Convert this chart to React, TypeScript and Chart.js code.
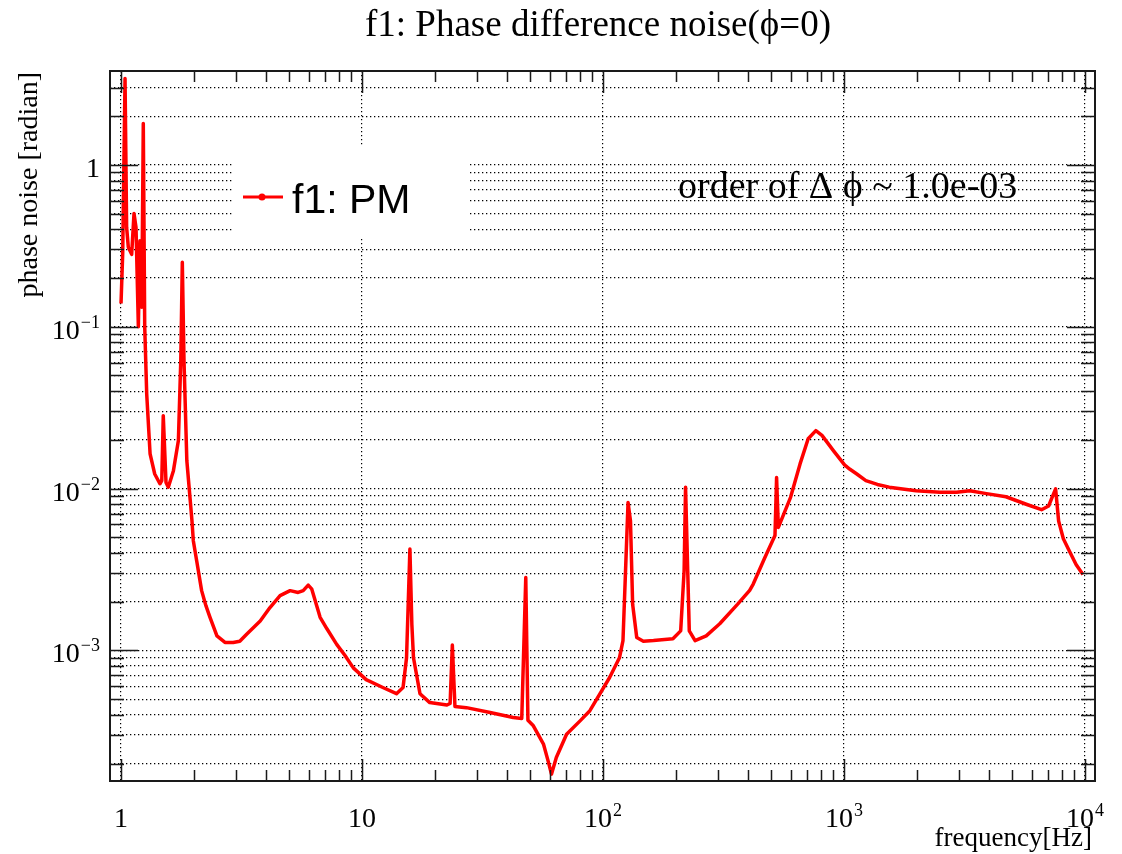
import React, { useEffect, useRef } from "react";
import { Chart, registerables } from "chart.js";

Chart.register(...registerables);

// ---------------- data ----------------
const TITLE = "f1: Phase difference noise(\u03d5=0)";
const X_TITLE = "frequency[Hz]";
const Y_TITLE = "phase noise [radian]";
const LEGEND_LABEL = "f1: PM";
const NOTE = "order of \u0394 \u03d5 ~ 1.0e-03";

const freq = [
  1.0, 1.016, 1.039, 1.055, 1.072, 1.107, 1.132, 1.154, 1.18, 1.198, 1.219, 1.237,
  1.254, 1.278, 1.32, 1.38, 1.45, 1.476, 1.497, 1.537, 1.571, 1.65, 1.73, 1.77,
  1.796, 1.825, 1.875, 1.97, 1.995, 2.06, 2.16, 2.25, 2.34, 2.5, 2.7, 2.92, 3.11, 3.32, 3.78,
  4.15, 4.57, 5.03, 5.43, 5.7, 5.98, 6.18, 6.7, 7.15, 7.85, 8.5, 9.2, 10.4, 12.2, 13.9, 14.8,
  15.3, 15.45, 15.8, 16.1, 16.35, 17.4, 19.1, 22.5, 23.2, 23.7, 24.3, 27.1, 34.0, 42.4, 46.0,
  47.8, 48.8, 51.4, 54.7, 56.6, 59.2, 61.1, 64.0, 70.6, 80.3, 88.2, 96.9, 106.5,
  117, 121, 124, 127, 130, 132.7, 138, 147, 162, 195, 210, 217, 220, 224.6, 228,
  241, 268, 305, 362, 406, 420, 470, 517, 525, 534, 600, 657, 710, 764, 810, 905, 1005, 1055,
  1130, 1232, 1375, 1540, 1990, 2500, 2930, 3320, 3900, 4700, 5700, 6600, 7060, 7550, 7770,
  8130, 8600, 9180, 9800,
];

const phaseNoise = [
  0.139, 0.282, 3.41, 0.41, 0.31, 0.28, 0.5, 0.41, 0.1, 0.34, 0.132, 1.8,
  0.1, 0.0385, 0.0164, 0.0123, 0.0107, 0.0112, 0.0282, 0.0109, 0.0102, 0.0129, 0.0198, 0.062,
  0.25, 0.062, 0.0149, 0.0063, 0.00476, 0.00358, 0.00234, 0.00189, 0.0016, 0.00123, 0.00112, 0.00112, 0.00114, 0.00126, 0.00152,
  0.00184, 0.00218, 0.00234, 0.00228, 0.00234, 0.00253, 0.0024, 0.0016, 0.00136, 0.00109, 0.00093, 0.00078, 0.00066, 0.00059, 0.00054, 0.00059,
  0.0009, 0.00144, 0.00423, 0.00144, 0.0009, 0.00054, 0.000476, 0.00046, 0.00047, 0.00108, 0.00045, 0.000443, 0.000413, 0.000385, 0.00038,
  0.00282, 0.00037, 0.000342, 0.000289, 0.000264, 0.000207, 0.000172, 0.000218, 0.000303, 0.000367, 0.000424, 0.000537, 0.00068,
  0.0009, 0.00115, 0.0031, 0.0082, 0.0063, 0.00193, 0.0012, 0.00114, 0.00115, 0.00118, 0.00132, 0.0031, 0.0102, 0.0031, 0.00132,
  0.00115, 0.00123, 0.00146, 0.00193, 0.00235, 0.00257, 0.00376, 0.00512, 0.0117, 0.00575, 0.00883, 0.0142, 0.0203, 0.0228, 0.0213, 0.0171, 0.014, 0.0132,
  0.0123, 0.0112, 0.0106, 0.0102, 0.0097, 0.0095, 0.0095, 0.0097, 0.0093, 0.0089, 0.008, 0.0074, 0.0078, 0.00995, 0.0063,
  0.0049, 0.00413, 0.00339, 0.00294,
];

const X_MIN = 0.9;
const X_MAX = 11000;
const Y_MIN = 1.56e-4;
const Y_MAX = 3.8;

const X_DECADES = [1, 10, 100, 1000, 10000];
const X_TICK_BASE = ["1", "10", "10", "10", "10"];
const X_TICK_SUP = ["", "", "2", "3", "4"];
const Y_DECADES = [1e-3, 1e-2, 1e-1, 1];
const Y_TICK_BASE = ["10", "10", "10", "1"];
const Y_TICK_SUP = ["\u22123", "\u22122", "\u22121", ""];

// ---------------- helpers ----------------
const SERIF = '"Liberation Serif", "Times New Roman", serif';
const SANS = '"Liberation Sans", Arial, sans-serif';

function logTicks(min: number, max: number) {
  const out: { v: number; major: boolean }[] = [];
  for (let e = Math.floor(Math.log10(min)); e <= Math.ceil(Math.log10(max)); e++) {
    for (let k = 1; k <= 9; k++) {
      const v = k * Math.pow(10, e);
      if (v > min * 1.0001 && v < max * 0.9999) out.push({ v, major: k === 1 });
    }
  }
  return out;
}

function drawSupLabel(
  ctx: CanvasRenderingContext2D,
  base: string,
  sup: string,
  x: number,
  y: number,
  align: "center" | "right"
) {
  const baseFont = `28px ${SERIF}`;
  const supFont = `18px ${SERIF}`;
  ctx.font = baseFont;
  const wb = ctx.measureText(base).width;
  ctx.font = supFont;
  const ws = sup ? ctx.measureText(sup).width + 1 : 0;
  const total = wb + ws;
  const start = align === "center" ? x - total / 2 : x - total;
  ctx.textAlign = "left";
  ctx.textBaseline = "alphabetic";
  ctx.font = baseFont;
  ctx.fillText(base, start, y);
  if (sup) {
    ctx.font = supFont;
    ctx.fillText(sup, start + wb + 1, y - 11);
  }
}

const rootPlugin = {
  id: "rootStyle",
  beforeDatasetsDraw(chart: any) {
    const ctx: CanvasRenderingContext2D = chart.ctx;
    ctx.save();
    ctx.fillStyle = "#ffffff";
    ctx.fillRect(232, 146, 236, 92);
    ctx.restore();
  },
  afterDraw(chart: any) {
    const ctx: CanvasRenderingContext2D = chart.ctx;
    const { left, right, top, bottom } = chart.chartArea;
    const xs = chart.scales.x;
    const ys = chart.scales.y;
    ctx.save();
    ctx.fillStyle = "#000";
    ctx.strokeStyle = "#1a1a1a";

    // ticks
    ctx.lineWidth = 1.5;
    ctx.beginPath();
    for (const t of logTicks(X_MIN, X_MAX)) {
      const px = Math.round(xs.getPixelForValue(t.v)) + 0.5;
      const len = t.major ? 22 : 11;
      ctx.moveTo(px, bottom);
      ctx.lineTo(px, bottom - len);
      ctx.moveTo(px, top);
      ctx.lineTo(px, top + len);
    }
    for (const t of logTicks(Y_MIN, Y_MAX)) {
      const py = Math.round(ys.getPixelForValue(t.v)) + 0.5;
      const len = t.major ? 28 : 14;
      ctx.moveTo(left, py);
      ctx.lineTo(left + len, py);
      ctx.moveTo(right, py);
      ctx.lineTo(right - len, py);
    }
    ctx.stroke();

    // frame
    ctx.lineWidth = 2;
    ctx.strokeRect(left, top, right - left, bottom - top);

    // tick labels
    X_DECADES.forEach((v, i) => {
      const px = xs.getPixelForValue(v);
      drawSupLabel(ctx, X_TICK_BASE[i], X_TICK_SUP[i], px, bottom + 46, "center");
    });
    Y_DECADES.forEach((v, i) => {
      const py = ys.getPixelForValue(v);
      drawSupLabel(ctx, Y_TICK_BASE[i], Y_TICK_SUP[i], left - 10, py + 12, "right");
    });

    // title
    ctx.font = `37px ${SERIF}`;
    ctx.textAlign = "center";
    ctx.textBaseline = "alphabetic";
    ctx.fillText(TITLE, 598, 36);

    // axis titles
    ctx.font = `27px ${SERIF}`;
    ctx.textAlign = "right";
    ctx.fillText(X_TITLE, 1092, 846);
    ctx.save();
    ctx.font = `28px ${SERIF}`;
    ctx.translate(37, 72);
    ctx.rotate(-Math.PI / 2);
    ctx.textAlign = "right";
    ctx.fillText(Y_TITLE, 0, 0);
    ctx.restore();

    // note
    ctx.font = `38px ${SERIF}`;
    ctx.textAlign = "left";
    ctx.fillText(NOTE, 678, 198);

    // legend
    ctx.strokeStyle = "#ff0000";
    ctx.fillStyle = "#ff0000";
    ctx.lineWidth = 3;
    ctx.beginPath();
    ctx.moveTo(243, 197);
    ctx.lineTo(283, 197);
    ctx.stroke();
    ctx.beginPath();
    ctx.arc(262, 197, 3.5, 0, Math.PI * 2);
    ctx.fill();
    ctx.fillStyle = "#000";
    ctx.font = `41px ${SANS}`;
    ctx.textAlign = "left";
    ctx.fillText(LEGEND_LABEL, 292, 213);

    ctx.restore();
  },
};

export default function App() {
  const canvasRef = useRef<HTMLCanvasElement | null>(null);

  useEffect(() => {
    if (!canvasRef.current) return;
    const yGridValues = logTicks(Y_MIN, Y_MAX).map((t) => t.v);
    const chart = new Chart(canvasRef.current, {
      type: "line",
      data: {
        datasets: [
          {
            label: LEGEND_LABEL,
            data: freq.map((f, i) => ({ x: f, y: phaseNoise[i] })),
            borderColor: "#ff0000",
            backgroundColor: "#ff0000",
            borderWidth: 3.5,
            pointRadius: 0,
            tension: 0,
            fill: false,
            borderJoinStyle: "round",
          } as any,
        ],
      },
      options: {
        responsive: false,
        animation: false,
        devicePixelRatio: 1,
        layout: { padding: { left: 110, top: 71, right: 27, bottom: 73 } },
        plugins: {
          legend: { display: false },
          title: { display: false },
          tooltip: { enabled: false },
        },
        scales: {
          x: {
            type: "logarithmic",
            min: X_MIN,
            max: X_MAX,
            afterBuildTicks: (s: any) => {
              s.ticks = X_DECADES.map((v) => ({ value: v }));
            },
            afterFit: (s: any) => {
              s.height = 0;
            },
            ticks: { display: false },
            grid: { color: "#000", lineWidth: 1.2, drawTicks: false },
            border: { display: false, dash: [1.3, 2.7] },
          },
          y: {
            type: "logarithmic",
            min: Y_MIN,
            max: Y_MAX,
            afterBuildTicks: (s: any) => {
              s.ticks = yGridValues.map((v) => ({ value: v }));
            },
            afterFit: (s: any) => {
              s.width = 0;
            },
            ticks: { display: false },
            grid: { color: "#000", lineWidth: 1.2, drawTicks: false },
            border: { display: false, dash: [1.3, 2.7] },
          },
        } as any,
      },
      plugins: [rootPlugin],
    });
    return () => chart.destroy();
  }, []);

  return (
    <div style={{ position: "fixed", left: 0, top: 0, width: 1122, height: 854, background: "#fff" }}>
      <canvas ref={canvasRef} width={1122} height={854} style={{ display: "block" }} />
    </div>
  );
}
